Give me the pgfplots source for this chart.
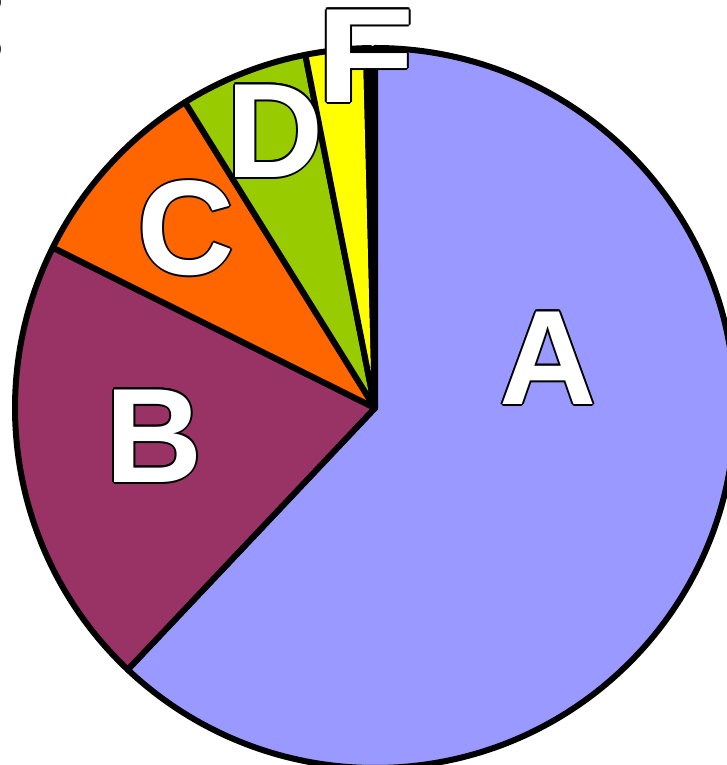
\documentclass[border=0pt]{standalone}
\usepackage{pgfplots}
\pgfplotsset{compat=1.18}
\usepackage{pgfplotstable}
\usepackage{fontspec}
\setmainfont{Liberation Sans}
\definecolor{colA}{HTML}{9999FF}
\definecolor{colB}{HTML}{993366}
\definecolor{colC}{HTML}{FF6600}
\definecolor{colD}{HTML}{99CC00}
\definecolor{colE}{HTML}{FFFF00}
\definecolor{colF}{HTML}{33CCCC}
\pgfplotstableread{
name value fill
A 62.05 colA
B 20.3 colB
C 8.8 colC
D 5.75 colD
E 2.7 colE
F 0.2 colF
}\piedata
\tikzset{lblk/.style={text=black,inner sep=0pt,font=\fontsize{135}{135}\selectfont\bfseries},
lwht/.style={text=white,inner sep=0pt,font=\fontsize{135}{135}\selectfont\bfseries}}
\newcommand{\oo}[6]{\node[lblk,xshift=#3bp,yshift=#4bp,xscale=#6] at (axis cs:#1,#2) {#5};}
\newcommand{\olbl}[4][1]{%
\oo{#2}{#3}{1.8}{0}{#4}{#1}\oo{#2}{#3}{1.27}{1.27}{#4}{#1}%
\oo{#2}{#3}{0}{1.8}{#4}{#1}\oo{#2}{#3}{-1.27}{1.27}{#4}{#1}%
\oo{#2}{#3}{-1.8}{0}{#4}{#1}\oo{#2}{#3}{-1.27}{-1.27}{#4}{#1}%
\oo{#2}{#3}{0}{-1.8}{#4}{#1}\oo{#2}{#3}{1.27}{-1.27}{#4}{#1}%
\node[lwht,xscale=#1] at (axis cs:#2,#3) {#4};}
\begin{document}
\begin{tikzpicture}
\useasboundingbox (0,0) rectangle (727bp,765bp);
\clip (0,0) rectangle (727bp,765bp);
\begin{axis}[scale only axis, width=727bp, height=765bp, xmin=0, xmax=727, ymin=0, ymax=765,
  hide axis, clip=true, at={(0,0)}, anchor=south west]
\pgfplotstablegetrowsof{\piedata}
\pgfmathtruncatemacro{\N}{\pgfplotsretval-1}
\def\cum{0}
\pgfplotsforeachungrouped \i in {0,...,\N}{%
  \pgfplotstablegetelem{\i}{value}\of{\piedata}\let\v\pgfplotsretval
  \pgfplotstablegetelem{\i}{fill}\of{\piedata}\let\c\pgfplotsretval
  \pgfmathsetmacro{\sa}{90-3.6*\cum}%
  \pgfmathsetmacro{\ea}{90-3.6*(\cum+\v)}%
  \pgfmathsetmacro{\cum}{\cum+\v}%
  \edef\temp{\noexpand\filldraw[fill=\c, draw=black, line width=6bp, line join=round] (axis cs:375,357) -- ++(\sa:360bp) arc[start angle=\sa, end angle=\ea, radius=360bp] -- cycle;}%
  \temp
}
\olbl{548}{407}{A}
\olbl{154}{329}{B}
\olbl{186}{537}{C}
\olbl{275}{634}{D}
\olbl[1.2]{366}{709}{F}
\node[text=black,font=\fontsize{30}{30}\selectfont\bfseries,overlay] at (axis cs:-7,762) {o};
\node[text=black,font=\fontsize{30}{30}\selectfont\bfseries,overlay] at (axis cs:-7,715) {o};
\end{axis}
\end{tikzpicture}
\end{document}
